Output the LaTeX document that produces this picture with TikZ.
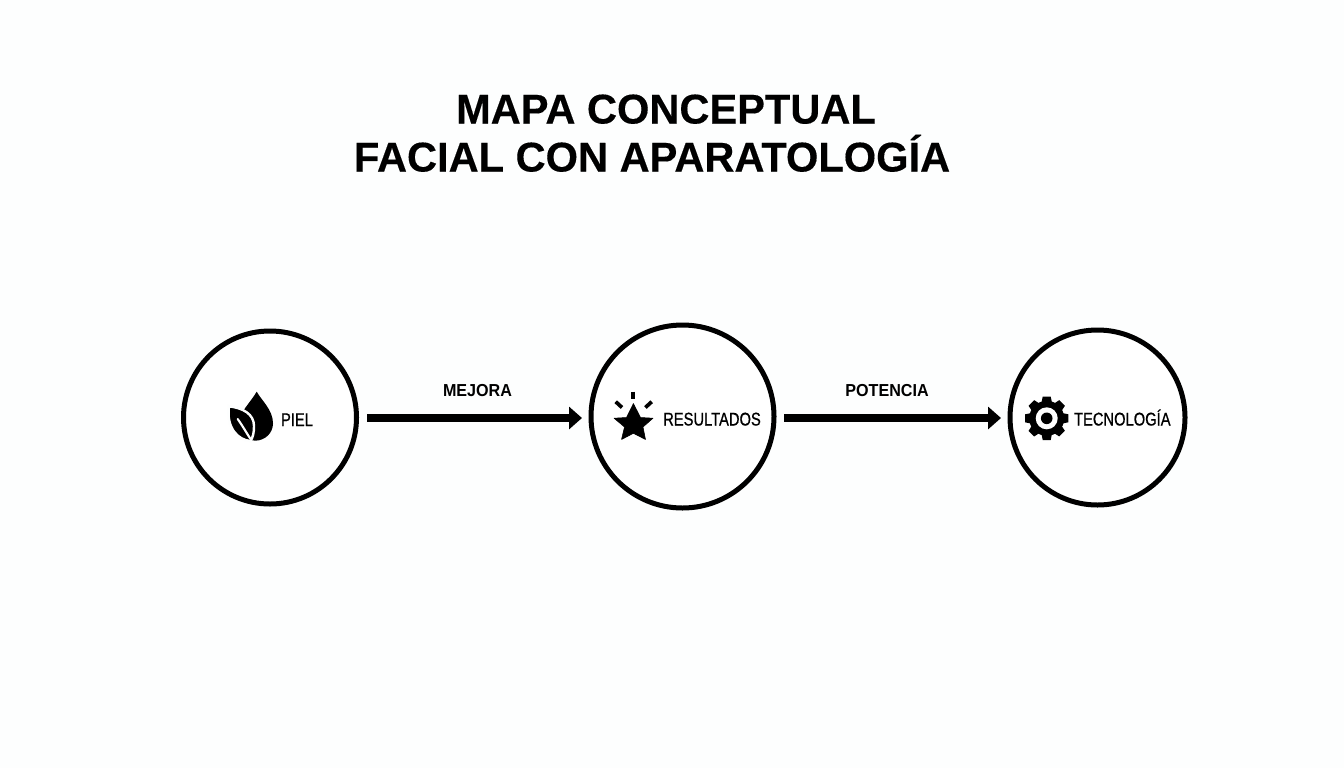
\documentclass[tikz,border=0pt]{standalone}
\usepackage{fontspec}
\usetikzlibrary{arrows.meta}
\setmainfont{Liberation Sans}
\newfontfamily\titlefont[FakeBold=0.3]{Liberation Sans Bold}
\newfontfamily\labfont[FakeStretch=0.8,FakeBold=0.7]{Liberation Sans}
\newfontfamily\linkfont[FakeStretch=0.93]{Liberation Sans}
\definecolor{paper}{HTML}{FDFEFE}
\tikzset{
  ring/.style={draw=black,fill=white,circle,line width=3.75pt,inner sep=0pt},
  link/.style={draw=black,line width=6pt,-{Triangle[length=9.75pt,width=16.5pt]}},
  titletext/.style={font=\titlefont\fontsize{31.2pt}{34pt}\selectfont,inner sep=0pt,text=black,anchor=base},
  circletext/.style={font=\labfont\fontsize{13.8pt}{16pt}\selectfont,inner sep=0pt,text=black,anchor=base},
  linktext/.style={font=\linkfont\bfseries\fontsize{13pt}{15pt}\selectfont,inner sep=0pt,text=black,anchor=base}
}
\begin{document}
\begin{tikzpicture}[x=0.75pt,y=-0.75pt]
\useasboundingbox (0,0) rectangle (1344,768);
\fill[paper] (0,0) rectangle (1344,768);
\node[titletext] (t1) at (666,123.5) {MAPA CONCEPTUAL};
\node[titletext] (t2) at (652,171.5) {FACIAL CON APARATOLOGÍA};
\node[ring,minimum size=129.75pt] (piel) at (270,417.5) {};
\node[ring,minimum size=137.25pt] (res) at (682.5,416.5) {};
\node[ring,minimum size=131.25pt] (tec) at (1097.5,417.5) {};
\draw[link] ([xshift=6pt,yshift=-0.375pt]piel.east) -- ([xshift=-4.875pt,yshift=-1.125pt]res.west);
\draw[link] ([xshift=5.625pt,yshift=-1.125pt]res.east) -- ([xshift=-4.875pt,yshift=-0.375pt]tec.west);
\node[linktext] (l1) at (477.5,396) {MEJORA};
\node[linktext] (l2) at (887,396) {POTENCIA};
\node[circletext] (n1) at (297,426) {PIEL};
\node[circletext] (n2) at (712,425.5) {RESULTADOS};
\node[circletext] (n3) at (1122.3,425.5) {TECNOLOGÍA};
% drop and leaf
\fill[black] (256.7,391.7) .. controls (262,401) and (273,410) .. (273,423.5)
  .. controls (273,433) and (265,440.7) .. (255,440.7)
  .. controls (248,440.7) and (240,430) .. (240,420)
  .. controls (240,412) and (250,403) .. (256.7,391.7) -- cycle;
\fill[black,draw=paper,line width=1.8pt] (229,406.3)
  .. controls (243,408) and (254,414) .. (254,426)
  .. controls (254,433) and (253,437) .. (250.5,441)
  .. controls (238,440) and (226,428) .. (229,406.3) -- cycle;
\draw[paper,line width=1.6pt,line cap=round] (237.7,419) .. controls (242,425) and (246,432) .. (250.5,439);
% star with rays
\fill[black,draw=black,line width=0.4pt,line join=round] (633.4,403.5) -- (640.5,417.5) -- (653,418.2) -- (643,427)
  -- (645.5,439.5) -- (633.4,433.3) -- (621.5,439.5) -- (624.5,427) -- (614,418.2) -- (626.5,417.5) -- cycle;
\draw[black,line width=3pt] (633.4,391.7) -- (633.4,399.3);
\draw[black,line width=2.8pt] (615.7,401.7) -- (622,407.5);
\draw[black,line width=2.8pt] (651.7,401.7) -- (645.4,407.5);
% gear
\foreach \a in {0,45,...,315}
  \fill[black,rotate around={\a:(1046.7,418.3)}] (1042.7,396.6) -- (1050.7,396.6) -- (1052.2,404) -- (1041.2,404) -- cycle;
\fill[black] (1046.7,418.3) circle[radius=17.5];
\fill[white] (1046.7,418.3) circle[radius=11];
\fill[black] (1046.7,418.3) circle[radius=5.8];
\end{tikzpicture}
\end{document}
